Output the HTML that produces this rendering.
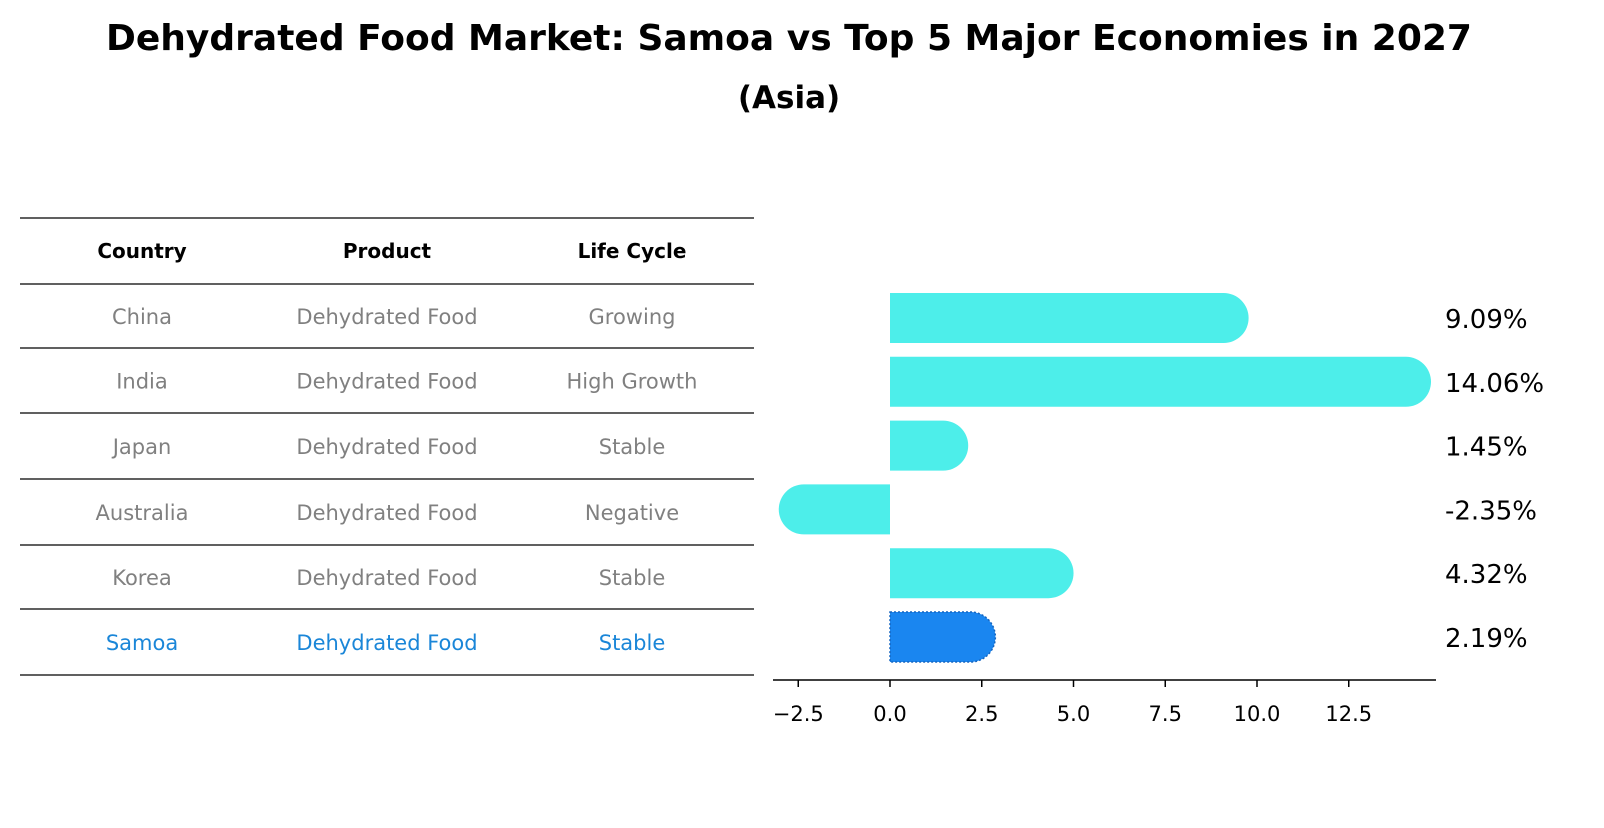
<!DOCTYPE html>
<html><head><meta charset="utf-8"><style>
body{margin:0;background:#fff;font-family:"Liberation Sans","DejaVu Sans",sans-serif}
svg text{font-family:"DejaVu Sans","Liberation Sans",sans-serif}
</style></head><body>
<svg id="c" width="1604" height="823" viewBox="0 0 1604 823" xmlns="http://www.w3.org/2000/svg">
<text x="789" y="50" text-anchor="middle" font-size="36" font-weight="bold">Dehydrated Food Market: Samoa vs Top 5 Major Economies in 2027</text>
<text x="789" y="108" text-anchor="middle" font-size="31" font-weight="bold">(Asia)</text>
<g id="table"></g>
<g id="bars"></g>
</svg>
<script>
const countries=["China","India","Japan","Australia","Korea","Samoa"];
const products=["Dehydrated Food","Dehydrated Food","Dehydrated Food","Dehydrated Food","Dehydrated Food","Dehydrated Food"];
const lifeCycles=["Growing","High Growth","Stable","Negative","Stable","Stable"];
const growth=[9.09,14.06,1.45,-2.35,4.32,2.19];
const ticks=[-2.5,0.0,2.5,5.0,7.5,10.0,12.5];
const NS="http://www.w3.org/2000/svg";
function mk(t,a,p){const e=document.createElementNS(NS,t);for(const k in a)e.setAttribute(k,a[k]);p.appendChild(e);return e;}
const tb=document.getElementById('table');
const rowY=[218,284,348,413,479,545,609,675];
rowY.forEach((y)=>{const l=mk('line',{x1:20,x2:754,y1:y,y2:y,stroke:'#000','stroke-width':1.2},tb);

});
const colX=[142,387,632];
["Country","Product","Life Cycle"].forEach((h,i)=>{const t=mk('text',{x:colX[i],y:258,'text-anchor':'middle','font-size':20,'font-weight':'bold'},tb);t.textContent=h;

});
countries.forEach((c,r)=>{const vals=[c,products[r],lifeCycles[r]];const y=(rowY[r+1]+rowY[r+2])/2+8;
vals.forEach((v,i)=>{const t=mk('text',{x:colX[i],y:y,'text-anchor':'middle','font-size':21,fill:c==="Samoa"?'#1a86d8':'#808080'},tb);t.textContent=v;

});});
const bg=document.getElementById('bars');
const x0=890,ppu=36.7;const X=v=>x0+v*ppu;
const yc=i=>318+i*63.8;const r=25;
growth.forEach((v,i)=>{const samoa=countries[i]==="Samoa";const col=samoa?'#1a86f0':'#4deeea';
const xe=X(v),y=yc(i);let d;
if(v>=0){d=`M${x0},${y-r} L${xe},${y-r} A${r},${r} 0 0 1 ${xe},${y+r} L${x0},${y+r} Z`;}
else{d=`M${x0},${y-r} L${xe},${y-r} A${r},${r} 0 0 0 ${xe},${y+r} L${x0},${y+r} Z`;}
const p=mk('path',{d:d,fill:col},bg);
if(samoa){p.setAttribute('stroke','#1565c0');p.setAttribute('stroke-dasharray','2 2');p.setAttribute('stroke-width','1.5');}


const t=mk('text',{x:1445,y:y+10,'font-size':26},bg);t.textContent=v.toFixed(2)+'%';

});
const ax=mk('line',{x1:773,x2:1436,y1:680,y2:680,stroke:'#000','stroke-width':1.5},bg);


ticks.forEach(v=>{const tk=mk('line',{x1:X(v),x2:X(v),y1:680,y2:687,stroke:'#000','stroke-width':1.5},bg);


const t=mk('text',{x:X(v),y:721,'text-anchor':'middle','font-size':21},bg);t.textContent=(v<0?'\u2212':'')+Math.abs(v).toFixed(1);

});
</script>
</body></html>
